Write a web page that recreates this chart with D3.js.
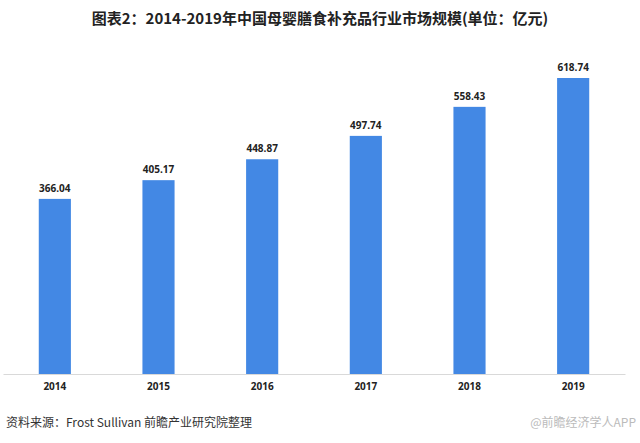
<!DOCTYPE html>
<html><head><meta charset="utf-8">
<script src="https://cdn.jsdelivr.net/npm/d3@7"></script>
<style>html,body{margin:0;padding:0;background:#fff;}svg{display:block;}</style>
</head><body>
<script>
const years = ["2014","2015","2016","2017","2018","2019"];
const values = [366.04, 405.17, 448.87, 497.74, 558.43, 618.74];
const title = "图表2：2014-2019年中国母婴膳食补充品行业市场规模(单位：亿元)";
const source = "资料来源：Frost Sullivan 前瞻产业研究院整理";
const mark = "@前瞻经济学人APP";

const W = 640, H = 443;
const svg = d3.select("body").append("svg").attr("width", W).attr("height", H);
svg.append("rect").attr("width", W).attr("height", H).attr("fill", "#fff");

const x = d3.scaleBand().domain(years).range([3, 625]).paddingInner(0.69).paddingOuter(0.345);
const y = d3.scaleLinear().domain([0, 618.74]).range([374, 78]);

svg.append("text").attr("x", 320).attr("y", 24).attr("text-anchor", "middle")
  .attr("font-family", "'Noto Sans CJK SC', sans-serif").attr("font-weight", "bold")
  .attr("font-size", 15).attr("fill", "#222").text(title);

svg.selectAll("rect.bar").data(values).enter().append("rect").attr("class", "bar")
  .attr("x", (d, i) => x(years[i])).attr("width", x.bandwidth())
  .attr("y", d => y(d)).attr("height", d => y(0) - y(d)).attr("fill", "#4388e4");

svg.selectAll("text.val").data(values).enter().append("text").attr("class", "val")
  .attr("x", (d, i) => x(years[i]) + x.bandwidth() / 2).attr("y", d => y(d) - 7)
  .attr("text-anchor", "middle").attr("font-family", "'Open Sans', sans-serif")
  .attr("font-weight", "bold").attr("font-size", 10).attr("fill", "#222")
  .text(d => d.toFixed(2));

const ax = svg.append("g").attr("transform", "translate(0,374)")
  .call(d3.axisBottom(x).tickSize(0).tickPadding(9));
ax.select(".domain").attr("stroke", "#d9d9d9").attr("stroke-width", 1);
ax.selectAll("text").attr("font-family", "'Open Sans', sans-serif").attr("font-weight", "bold")
  .attr("font-size", 10).attr("fill", "#222");

svg.append("text").attr("x", 6).attr("y", 427)
  .attr("font-family", "'Noto Sans CJK SC', sans-serif").attr("font-size", 12)
  .attr("fill", "#333").text(source);

svg.append("text").attr("x", 636).attr("y", 427).attr("text-anchor", "end")
  .attr("font-family", "'Noto Sans CJK SC', sans-serif").attr("font-size", 12)
  .attr("fill", "#bbb").text(mark);
</script>
</body></html>
